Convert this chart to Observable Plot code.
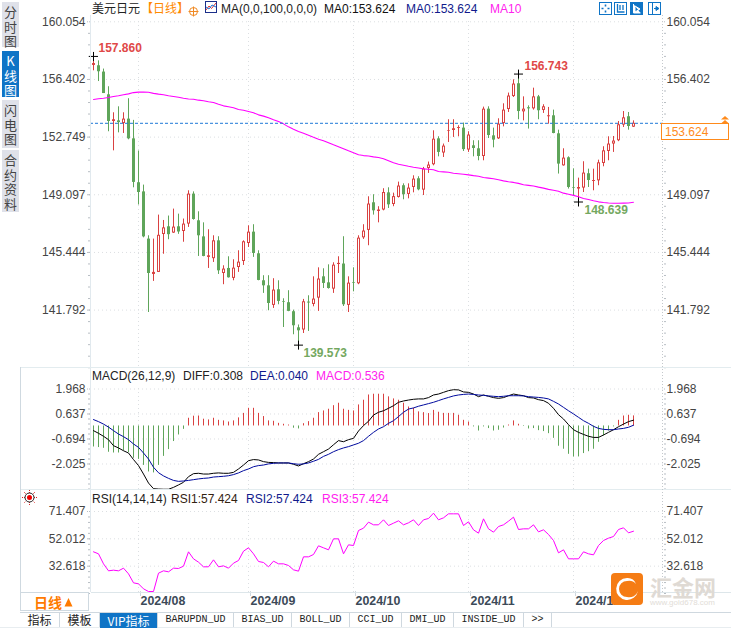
<!DOCTYPE html>
<html>
<head>
<meta charset="utf-8">
<script src="https://cdn.jsdelivr.net/npm/d3@7"></script>
<script src="https://cdn.jsdelivr.net/npm/@observablehq/plot@0.6"></script>
<style>
html,body{margin:0;padding:0;background:#fff;}
#page{position:relative;width:731px;height:628px;overflow:hidden;font-family:"Liberation Sans",Arial,sans-serif;font-size:12px;color:#222;}
.abs{position:absolute;white-space:nowrap;}
.plot{position:absolute;left:0;}
.plot svg{display:block;}
.side{position:absolute;left:2px;width:17px;background:#dfe1e9;color:#444;text-align:center;font:13px/14.6px "Noto Sans CJK SC",sans-serif;}
.tab{position:absolute;top:612px;height:15px;line-height:15px;border-right:1px solid #cfd8df;text-align:center;font:10px/16px "Liberation Mono",monospace;color:#222;}
</style>
</head>
<body>
<div id="page"></div>
<script>
// ---- candlesticks (index = trading day) ----
const high = [157.86,157.58,157.06,155.94,154.29,154.67,154.29,155.18,153.81,151.87,
149.71,146.50,146.29,147.81,147.47,147.75,148.19,147.87,147.56,149.35,
149.28,148.02,147.32,146.88,146.50,146.44,144.60,145.17,144.98,145.55,
146.18,147.13,147.20,145.55,143.97,143.97,143.78,143.65,142.51,143.02,
141.79,140.85,142.47,142.70,143.90,144.47,144.41,144.66,144.79,145.17,
146.44,143.90,144.47,146.50,147.20,148.97,149.10,148.34,149.48,149.54,
149.20,149.90,149.79,149.79,150.30,150.24,150.83,151.17,153.15,152.77,
152.31,153.85,153.85,153.47,153.64,153.09,152.52,152.52,154.65,154.67,
153.32,153.91,154.86,155.54,156.38,156.743,155.30,154.73,155.85,155.39,
154.80,154.63,154.46,153.19,152.01,151.50,150.74,150.15,151.19,150.72,
150.72,151.29,152.14,152.77,152.79,153.74,154.37,154.31,153.78];
const open = [157.29,157.27,156.87,155.43,153.74,153.78,153.61,153.89,152.64,149.86,
149.28,146.29,144.05,144.18,146.58,147.07,146.67,147.07,146.77,147.24,
149.14,147.45,146.43,145.13,145.05,146.18,144.11,144.43,143.80,144.49,
144.87,146.01,146.73,145.36,143.65,143.33,142.09,143.08,142.32,142.26,
141.69,140.67,140.53,142.30,142.15,142.55,143.90,143.52,143.12,144.68,
144.71,142.09,143.52,143.46,146.37,146.84,148.59,148.04,148.13,149.22,
148.48,148.93,149.67,149.12,149.56,150.11,149.39,150.76,151.00,152.64,
151.74,153.11,153.17,153.30,153.32,151.93,152.20,152.01,151.52,154.52,
152.83,152.64,153.61,154.50,155.32,156.13,154.35,154.61,154.54,155.30,
154.44,154.04,154.10,152.96,150.93,151.44,149.54,149.46,149.52,150.43,
149.94,149.98,151.08,151.84,152.31,152.52,153.51,154.04,153.38];
const close = [157.41,156.89,155.51,153.74,153.85,153.67,153.89,152.64,149.88,149.24,
146.43,144.11,144.18,146.53,147.00,146.57,147.05,146.74,147.24,149.14,
147.53,146.50,145.19,145.23,146.18,144.28,144.39,143.84,144.45,144.83,
146.12,146.73,145.38,143.67,143.33,142.21,143.06,142.34,142.28,141.71,
140.80,140.48,142.32,142.24,142.49,143.76,143.48,143.16,144.64,144.75,
142.13,143.50,143.48,146.35,146.80,148.51,148.08,148.13,149.24,148.46,
148.98,149.65,149.10,149.52,150.09,149.41,150.73,150.98,152.62,151.78,
152.18,153.15,153.28,153.36,151.96,152.88,152.03,151.52,154.52,152.85,
152.56,153.57,154.46,155.35,156.11,154.37,154.52,154.54,155.30,154.42,
154.67,154.10,152.98,151.04,151.42,149.56,149.50,149.56,150.47,150.00,
150.00,151.12,151.88,152.31,152.50,153.53,153.97,153.42,153.624];
const low = [156.95,156.27,155.51,153.09,151.88,153.02,152.98,152.58,149.54,148.45,
146.37,141.64,143.61,144.18,145.33,146.25,146.65,146.59,146.09,147.03,
147.49,145.19,145.17,144.43,144.81,144.05,143.40,143.82,143.65,144.18,
144.62,145.76,145.13,143.65,142.85,141.75,141.90,142.13,140.69,141.69,
140.23,139.573,140.31,140.44,142.00,141.71,143.16,143.12,142.85,144.11,
142.02,141.64,142.95,143.40,146.27,145.87,147.81,147.32,148.08,148.23,
148.34,148.89,148.78,148.84,149.22,149.35,149.05,150.45,150.93,151.50,
151.46,152.41,152.73,152.77,151.84,151.78,151.50,151.25,151.25,152.66,
152.07,152.60,153.40,154.31,155.26,153.85,153.78,153.26,154.46,153.85,
154.25,153.57,152.96,150.41,150.91,149.46,149.05,148.639,149.24,149.56,
149.35,149.67,150.87,151.25,151.78,152.46,153.36,153.19,153.36];
const ma100 = [155.13,155.18,155.21,155.26,155.32,155.37,155.43,155.49,155.57,155.60,
155.61,155.59,155.52,155.47,155.43,155.37,155.32,155.27,155.21,155.16,
155.15,155.09,155.05,154.99,154.94,154.83,154.73,154.67,154.61,154.50,
154.45,154.37,154.29,154.16,154.08,153.97,153.85,153.74,153.59,153.40,
153.25,153.11,152.99,152.87,152.74,152.62,152.52,152.39,152.26,152.14,
152.01,151.88,151.76,151.63,151.58,151.55,151.50,151.46,151.38,151.25,
151.12,151.03,150.97,150.90,150.84,150.79,150.74,150.71,150.68,150.57,
150.55,150.52,150.46,150.43,150.40,150.36,150.31,150.27,150.19,150.15,
150.11,150.05,149.98,149.92,149.88,149.82,149.73,149.69,149.65,149.58,
149.52,149.44,149.38,149.32,149.20,149.13,149.06,148.97,148.86,148.80,
148.72,148.65,148.61,148.58,148.56,148.56,148.57,148.58,148.62];
// ---- MACD ----
const diff = [-0.25,-0.39,-0.55,-0.73,-1.05,-1.17,-1.32,-1.44,-1.79,-2.11,
-2.56,-3.04,-3.34,-3.36,-3.37,-3.37,-3.27,-3.14,-3.00,-2.70,
-2.54,-2.52,-2.56,-2.56,-2.52,-2.50,-2.52,-2.52,-2.47,-2.29,
-2.08,-1.85,-1.79,-1.81,-1.90,-1.94,-1.95,-1.97,-1.97,-1.97,
-2.04,-2.13,-2.01,-1.90,-1.76,-1.51,-1.37,-1.23,-1.00,-0.78,
-0.84,-0.73,-0.66,-0.27,0.02,0.25,0.58,0.73,0.81,0.94,
1.08,1.26,1.33,1.38,1.42,1.44,1.44,1.51,1.65,1.70,
1.79,1.88,1.93,1.92,1.81,1.79,1.70,1.56,1.65,1.58,
1.51,1.47,1.51,1.61,1.70,1.65,1.61,1.51,1.49,1.40,
1.35,1.21,0.94,0.60,0.37,0.07,-0.20,-0.34,-0.45,-0.55,
-0.61,-0.61,-0.48,-0.34,-0.20,-0.04,0.10,0.23,0.308];
const dea = [0.34,0.23,0.10,-0.06,-0.25,-0.43,-0.57,-0.73,-0.96,-1.14,
-1.44,-1.76,-2.20,-2.49,-2.66,-2.79,-2.90,-2.95,-2.93,-2.90,
-2.86,-2.82,-2.79,-2.77,-2.72,-2.70,-2.68,-2.65,-2.59,-2.50,
-2.38,-2.29,-2.17,-2.11,-2.08,-2.02,-1.99,-1.97,-1.97,-1.97,
-2.01,-2.04,-2.02,-1.97,-1.88,-1.78,-1.62,-1.51,-1.37,-1.26,
-1.17,-1.10,-1.01,-0.92,-0.78,-0.55,-0.34,-0.16,-0.04,0.14,
0.28,0.50,0.73,0.90,0.96,1.05,1.12,1.19,1.26,1.35,
1.44,1.52,1.60,1.65,1.68,1.70,1.68,1.65,1.63,1.60,
1.58,1.56,1.58,1.61,1.61,1.61,1.60,1.56,1.54,1.52,
1.49,1.44,1.31,1.17,0.99,0.81,0.64,0.46,0.28,0.14,
-0.02,-0.13,-0.18,-0.20,-0.20,-0.16,-0.13,-0.07,0.04];
const macd = [-1.12,-1.15,-1.19,-1.40,-1.44,-1.44,-1.33,-1.42,-1.72,-1.78,
-2.10,-2.45,-2.50,-2.10,-1.62,-1.26,-0.83,-0.48,-0.18,0.41,
0.52,0.53,0.36,0.32,0.41,0.30,0.27,0.21,0.27,0.43,
0.67,0.94,0.94,0.67,0.50,0.27,0.25,0.14,0.09,0.05,
-0.12,-0.16,0.12,0.23,0.41,0.71,0.80,0.89,1.08,1.21,
0.89,0.83,0.80,1.12,1.37,1.65,1.69,1.69,1.69,1.55,
1.44,1.37,1.21,1.01,0.94,0.75,0.71,0.66,0.83,0.73,
0.67,0.67,0.67,0.57,0.30,0.21,-0.05,-0.27,-0.05,-0.14,
-0.27,-0.23,-0.11,0.05,0.27,0.09,-0.03,-0.16,-0.14,-0.25,
-0.30,-0.41,-0.66,-1.08,-1.24,-1.51,-1.65,-1.65,-1.47,-1.37,
-1.24,-0.87,-0.53,-0.27,-0.05,0.30,0.53,0.57,0.536];
// ---- RSI ----
const rsi = [42.79,41.37,34.27,29.31,29.78,29.31,31.20,27.18,20.79,20.08,
16.53,14.64,14.64,27.65,29.31,28.60,31.20,30.96,32.62,42.79,
37.82,35.46,32.15,32.15,37.11,32.15,32.85,31.20,34.75,36.64,
43.26,45.63,41.37,35.93,35.22,32.15,36.17,34.27,34.27,33.09,
30.02,29.07,39.24,39.24,40.90,47.05,45.63,44.21,52.01,52.01,
41.37,47.76,47.28,57.93,59.58,63.84,61.95,61.95,65.50,61.47,
63.13,64.79,61.95,63.37,65.50,61.47,65.50,66.44,70.23,65.50,
66.91,69.75,69.75,69.75,61.47,64.08,58.40,56.03,66.20,59.11,
56.74,60.76,61.95,64.55,67.39,58.64,59.11,59.11,61.95,56.98,
58.40,55.09,50.83,42.08,44.21,37.82,37.82,37.82,42.79,41.37,
40.66,47.28,50.83,52.49,53.67,58.64,59.82,56.27,57.424];
// ---- axes ----
const priceTicks = [160.054,156.402,152.749,149.097,145.444,141.792];
const priceTicksRight = [160.054,156.402,149.097,145.444,141.792];
const macdTicks = [1.968,0.637,-0.694,-2.025];
const rsiTicks = [71.407,52.012,32.618];
const monthIdx = [9,31,52,75,96];
const monthLabels = ["2024/08","2024/09","2024/10","2024/11","2024/12"];
const lastPrice = 153.624;
// ---- extremes shown on the chart ----
const extremes = [
  {i:0,  v:157.86,  label:"157.860", c:"#e04848", dx:5, dy:-8},
  {i:85, v:156.743, label:"156.743", c:"#e04848", dx:6, dy:-7.5},
  {i:41, v:139.573, label:"139.573", c:"#74a860", dx:5, dy:8},
  {i:97, v:148.639, label:"148.639", c:"#74a860", dx:6, dy:8}
];

const RED="#d94141", GREEN="#5fa55a", AXT="#444", GRID="#dcdfe2", MAG="#ff00ff";
const days = high.map((_,i)=>i);
const candles = days.map(i=>({i,h:high[i],o:open[i],c:close[i],l:low[i],up:close[i]>=open[i],
  top:Math.max(open[i],close[i]),bot:Math.min(open[i],close[i])}));
const xScale = {type:"linear",domain:[0,108],range:[93,633]};
const W=731, ML=90, MR=68;
const fs = {fontFamily:'"Liberation Sans",Arial,sans-serif',fontSize:"12px",background:"transparent",overflow:"visible"};

function minors(ticks){
  const s=Math.abs(ticks[0]-ticks[1])/5, hi=ticks[0], out=[];
  for(let k=1;k<=5*(ticks.length+1);k++) out.push(hi-k*s);
  return out;
}
function frameMarks(ticks,fmt,yDomain,rightTicks){
  const mt=minors(ticks).filter(v=>v>=Math.min(...yDomain)&&v<=Math.max(...yDomain));
  return [
    Plot.ruleY(ticks,{stroke:GRID,strokeDasharray:"1,3"}),
    Plot.ruleX(monthIdx,{stroke:GRID,strokeDasharray:"1,3"}),
    Plot.axisY({anchor:"left",ticks:mt,tickFormat:null,tickSize:2,tickPadding:0,label:null,stroke:"#b8bec4",text:null}),
    Plot.axisY({anchor:"right",ticks:mt,tickFormat:null,tickSize:2,tickPadding:0,label:null,stroke:"#b8bec4",text:null}),
    Plot.axisY({anchor:"left",ticks,tickFormat:fmt,tickSize:3,tickPadding:2,label:null,color:AXT,stroke:"#b8bec4",strokeDasharray:"1,1"}),
    Plot.axisY({anchor:"right",ticks:rightTicks||ticks,tickFormat:fmt,tickSize:2,tickPadding:1,label:null,color:AXT,stroke:"#b8bec4",strokeDasharray:"1,1"})
  ];
}

// ---- price panel ----
const pDom=[160.054,138.0];
const pRange=[21.3,21.3+(160.054-138.0)*15.787];
const price = Plot.plot({
  width:W,height:367,marginLeft:ML,marginRight:MR,marginTop:21,marginBottom:0,style:fs,
  x:Object.assign({axis:null},xScale),
  y:{domain:pDom,range:pRange,axis:null},
  marks:[
    ...frameMarks(priceTicks,d=>d.toFixed(3),pDom,priceTicksRight),
    Plot.ruleX(candles,{x:"i",y1:"h",y2:"l",stroke:d=>d.up?RED:GREEN,strokeWidth:1}),
    Plot.ruleX(candles,{x:"i",y1:"top",y2:"bot",stroke:d=>d.up?RED:GREEN,strokeWidth:3}),
    Plot.ruleX(candles.filter(d=>d.up&&(d.top-d.bot)>0.14),{x:"i",y1:"top",y2:"bot",stroke:"#fff",strokeWidth:1,insetTop:1,insetBottom:1}),
    Plot.line(days,{x:i=>i,y:i=>ma100[i],stroke:MAG,strokeWidth:1.1}),
    Plot.ruleY([lastPrice],{stroke:"#1e78d8",strokeDasharray:"3,2",strokeWidth:1}),
    Plot.dot(extremes,{x:"i",y:"v",symbol:"plus",r:3,stroke:"#000",strokeWidth:1}),
    ...extremes.map(e=>Plot.text([e],{x:"i",y:"v",text:"label",fill:"c",fontWeight:"bold",fontSize:12,textAnchor:"start",dx:e.dx,dy:e.dy})),
  ]
});
price.style.top="0px";

// ---- MACD panel ----
const mDom=[1.968,-3.62];
const mRange=[21.5,21.5+(1.968+3.62)*18.78];
const macdRows = days.map(i=>({i,v:macd[i]}));
const macdPlot = Plot.plot({
  width:W,height:122,marginLeft:ML,marginRight:MR,marginTop:21,marginBottom:0,style:fs,
  x:Object.assign({axis:null},xScale),
  y:{domain:mDom,range:mRange,axis:null},
  marks:[
    ...frameMarks(macdTicks,d=>d.toFixed(3),mDom),
    Plot.ruleX(macdRows,{x:"i",y1:0,y2:"v",stroke:d=>d.v>=0?RED:GREEN,strokeWidth:1}),
    Plot.line(days,{x:i=>i,y:i=>diff[i],stroke:"#000",strokeWidth:1}),
    Plot.line(days,{x:i=>i,y:i=>dea[i],stroke:"#000a9e",strokeWidth:1}),
  ]
});
macdPlot.style.top="367px";

// ---- RSI panel ----
const rDom=[71.407,13.0];
const rRange=[21,21+(71.407-13.0)*1.4092];
const rsiPlot = Plot.plot({
  width:W,height:123,marginLeft:ML,marginRight:MR,marginTop:21,marginBottom:21,style:fs,
  x:Object.assign({axis:null},xScale),
  y:{domain:rDom,range:rRange,axis:null},
  marks:[
    ...frameMarks(rsiTicks,d=>d.toFixed(3),rDom),
    Plot.line(days,{x:i=>i,y:i=>rsi[i],stroke:MAG,strokeWidth:1}),
    Plot.axisX({ticks:monthIdx,tickFormat:i=>monthLabels[monthIdx.indexOf(i)],anchor:"bottom",label:null,tickSize:5,tickPadding:0,
      textAnchor:"start",dx:2,dy:-1,stroke:"#cfd8df",fill:"#3c4a58",fontWeight:"bold",fontSize:12.4,lineAnchor:"top"}),
  ]
});
rsiPlot.style.top="490px";

// ---- page furniture ----
const page=document.getElementById("page");
function span(txt,l,t,css){const e=document.createElement("div");e.className="abs";e.textContent=txt;e.style.left=l+"px";e.style.top=t+"px";if(css)e.style.cssText+=css;page.appendChild(e);return e;}
function box(l,t,w,h,css){const e=document.createElement("div");e.className="abs";e.style.cssText+=`left:${l}px;top:${t}px;width:${w}px;height:${h}px;`+(css||"");page.appendChild(e);return e;}
function svg(l,t,w,h,inner){const e=document.createElement("div");e.className="abs";e.style.cssText+=`left:${l}px;top:${t}px;width:${w}px;height:${h}px;`;e.innerHTML=`<svg width="${w}" height="${h}" viewBox="0 0 ${w} ${h}" style="display:block">${inner}</svg>`;page.appendChild(e);return e;}

[price,macdPlot,rsiPlot].forEach(p=>{p.classList.add("plot");page.appendChild(p);});

// panel lines
box(90,15,1,577,"background:#e1e9ee;");
box(20,367,711,1,"background:#e3ecef;");
box(20,489,711,1,"background:#e3ecef;");
box(91,592,640,1,"background:#dde6ea;");
box(20,367,1,225,"background:#cfd9e0;");
box(20,592,69,19,"border:1.5px solid #cfd9e0;box-sizing:border-box;background:#fff;");
box(662,15,1,577,"background-image:linear-gradient(#c4c8cc 50%,transparent 50%);background-size:1px 3px;");

// side tabs
[[["分","时","图"],2,45,false],[["K","线","图"],51,46,true],[["闪","电","图"],100,48,false],[["合","约","资","料"],150,62,false]].forEach(([c,t,h,a])=>{
  const e=document.createElement("div");e.className="side";e.style.top=t+"px";e.style.height=h+"px";e.style.paddingTop="3px";e.style.boxSizing="border-box";
  e.innerHTML=c.join("<br>");if(a){e.style.background="#0f74c6";e.style.color="#fff";}page.appendChild(e);
});

// header
const F12="font-size:12px;line-height:14px;";
span("美元日元",92,1,F12+'font-family:"Noto Sans CJK SC";color:#222;');
span("【日线】",141,1,F12+'font-family:"Noto Sans CJK SC";color:#ff8a00;');
svg(188,6,11,11,'<circle cx="5.5" cy="5.5" r="4" fill="none" stroke="#f08a24"/><path d="M0.5 5.5H10.5M5.5 0.5V10.5" stroke="#f08a24"/>');
svg(205,1,13,13,'<rect x="0.5" y="0.5" width="11" height="11" fill="#fff" stroke="#1b2f8a"/><path d="M1 9L4 5L6.5 7.5L11 2" fill="none" stroke="#e03030"/><path d="M1 6L4 8L7 4L11 6" fill="none" stroke="#1e78d8"/>');
span("MA(0,0,100,0,0,0)",221,2,F12+"color:#222;");
span("MA0:153.624",324,2,F12+"color:#111;");
span("MA0:153.624",406,2,F12+"color:#101a8c;");
span("MA10",490,2,F12+"color:#ff22ee;");
const BL="#0f74c6";
svg(599,2,13,13,`<rect x=".5" y=".5" width="12" height="12" fill="#fff" stroke="${BL}"/><path d="M6.5 2.5v2M6.5 8.5v2M2.5 6.5h2M8.5 6.5h2" stroke="${BL}" stroke-width="1.6"/>`);
svg(614,2,13,13,`<rect x=".5" y=".5" width="12" height="12" fill="#fff" stroke="${BL}"/><path d="M3.5 2v8h7M6 3v5M9 3v5" fill="none" stroke="${BL}" stroke-width="1.3"/>`);
svg(630,2,13,13,`<rect x="0" y="0" width="13" height="13" fill="${BL}"/><path d="M3.5 2v9h7M5 4l5 3-5 3z" fill="#fff" stroke="#fff"/>`);
svg(648,2,13,13,`<rect x=".5" y=".5" width="12" height="12" fill="#fff" stroke="${BL}"/><path d="M4.5 1v11M6 6.5h4M8 4.5l3 2-3 2z" fill="${BL}" stroke="${BL}"/>`);

// price tag
box(661,123,68,17,"border:1px solid #ff8a1a;box-sizing:border-box;background:#fff;");
span(lastPrice.toFixed(3),665,125,F12+"color:#ff8a1a;");
svg(720,115,10,9,'<path d="M1 4.5L5 1L9 4.5z" fill="#ff8a1a"/><path d="M1 8.5L5 5L9 8.5z" fill="#ff8a1a"/>');

// sub-panel titles
span("MACD(26,12,9)",92,369,F12+"color:#222;");
span("DIFF:0.308",183,369,F12+"color:#222;");
span("DEA:0.040",250,369,F12+"color:#101a8c;");
span("MACD:0.536",316,369,F12+"color:#ff22ee;");
span("RSI(14,14,14)",92,492,F12+"color:#222;");
span("RSI1:57.424",171,492,F12+"color:#332211;");
span("RSI2:57.424",246,492,F12+"color:#101a8c;");
span("RSI3:57.424",322,492,F12+"color:#ff22ee;");
svg(22,490,15,15,'<g stroke="#e02020" stroke-dasharray="1,1"><path d="M7.5 0V15M0 7.5H15M2 2L13 13M13 2L2 13"/></g><circle cx="7.5" cy="7.5" r="4.5" fill="#fff" stroke="#222"/><circle cx="7.5" cy="7.5" r="2.5" fill="#f00000"/>');

// 日线 selector
span("日线",34,594,'font:bold 14px/16px "Noto Sans CJK SC";color:#ff7a00;');
svg(64,597,10,10,'<path d="M0.5 9.5L4.5 1L8.5 9.5z" fill="#ff7a00"/>');

// bottom tabs
box(20,612,711,1,"background:#cfd8df;");
box(0,627,731,1,"background:#e8edf0;");
[["指标",20,39,0],["模板",60,39,0],["VIP指标",100,57,1],["BARUPDN_UD",158,75,0],["BIAS_UD",234,57,0],["BOLL_UD",292,57,0],["CCI_UD",350,51,0],["DMI_UD",402,51,0],["INSIDE_UD",454,69,0],[">>",524,27,0]].forEach(([t,l,w,on])=>{
  const e=document.createElement("div");e.className="tab";e.textContent=t;e.style.left=l+"px";e.style.width=w+"px";
  if(/[\u4e00-\u9fff]/.test(t)) e.style.font='12px/15px "Noto Sans CJK SC"';
  if(on){e.style.background="#0f74c6";e.style.color="#fff";e.style.top="613px";}
  page.appendChild(e);
});

// logo
box(611,573,32,32,"background:#f57c14;border-radius:4px;");
svg(611,573,32,32,'<path d="M16 5a11 11 0 1 0 11 13a9 9 0 0 1-11 6a8 8 0 0 1 0-16a9 9 0 0 1 9 3a9 9 0 0 0-9-6z" fill="#fff"/><circle cx="18" cy="15" r="5" fill="#f57c14"/>');
span("汇金网",650,575,'font:bold 22px/22px "Noto Sans CJK SC";color:#dfdad4;');
span("www.gold678.com",650,598,"font-size:8px;line-height:9px;color:#e2ddd7;");
</script>
</body>
</html>
